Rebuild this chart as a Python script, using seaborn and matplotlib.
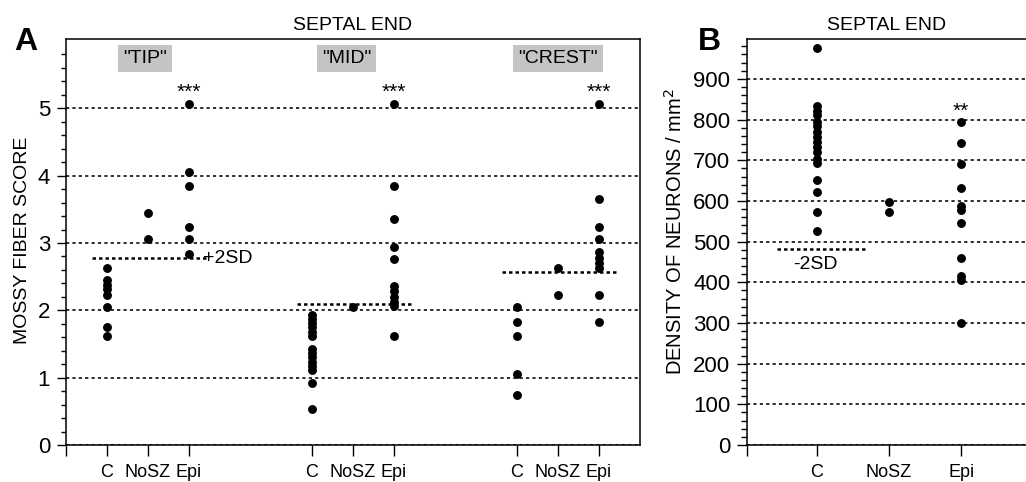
import numpy as np
import pandas as pd
import matplotlib
matplotlib.use("Agg")
import matplotlib.pyplot as plt
import seaborn as sns
from matplotlib.ticker import FixedLocator

# ---------------- data ----------------
regions = ['"TIP"', '"MID"', '"CREST"']
groups = ["C", "NoSZ", "Epi"]

tip_c = [2.63, 2.45, 2.38, 2.32, 2.23, 2.05, 1.75, 1.62]
tip_nosz = [3.45, 3.06]
tip_epi = [5.06, 4.06, 3.84, 3.24, 3.06, 2.84]
mid_c = [1.93, 1.87, 1.81, 1.75, 1.68, 1.62, 1.42, 1.36, 1.30, 1.24, 1.17, 1.11, 0.92, 0.53]
mid_nosz = [2.05]
mid_epi = [5.06, 3.85, 3.35, 2.94, 2.76, 2.36, 2.28, 2.20, 2.13, 2.06, 1.62]
crest_c = [2.05, 1.83, 1.62, 1.05, 0.74]
crest_nosz = [2.63, 2.23]
crest_epi = [5.06, 3.66, 3.24, 3.06, 2.86, 2.77, 2.70, 2.63, 2.23, 1.83]
sd_plus2 = [2.77, 2.09, 2.57]
stars_a = ["***", "***", "***"]

density_c = [975, 833, 822, 812, 795, 783, 770, 758, 745, 733, 720, 703, 693,
             652, 621, 572, 527]
density_nosz = [597, 572]
density_epi = [795, 742, 691, 631, 587, 578, 545, 460, 415, 405, 300]
sd_minus2 = 481
stars_b = "**"

# ---------------- tables ----------------
score_sets = [[tip_c, tip_nosz, tip_epi],
              [mid_c, mid_nosz, mid_epi],
              [crest_c, crest_nosz, crest_epi]]
rows = []
for ri, reg in enumerate(regions):
    for gi, g in enumerate(groups):
        for v in score_sets[ri][gi]:
            rows.append({"region": reg, "group": g, "pos": ri * 5 + gi, "score": v})
dfA = pd.DataFrame(rows)

rowsB = []
for gi, (g, vals) in enumerate(zip(groups, [density_c, density_nosz, density_epi])):
    for v in vals:
        rowsB.append({"group": g, "pos": gi, "density": v})
dfB = pd.DataFrame(rowsB)

# ---------------- style ----------------
sns.set_style("ticks")
plt.rcParams["font.family"] = ["Liberation Sans", "DejaVu Sans"]
plt.rcParams["axes.linewidth"] = 1.1
plt.rcParams["axes.edgecolor"] = "black"
plt.rcParams["xtick.color"] = "black"
plt.rcParams["ytick.color"] = "black"
plt.rcParams["text.color"] = "black"
plt.rcParams["axes.labelcolor"] = "black"

W, H = 1026, 482
fig = plt.figure(figsize=(W / 100, H / 100), dpi=100)
axA = fig.add_axes([66 / W, 37 / H, 574 / W, 406 / H])
axB = fig.add_axes([747 / W, 37 / H, 279 / W, 406 / H])

grid_ls = (0, (2.0, 2.0))
sd_ls = (0, (1.4, 1.2))
msize = 6.4

# ---------------- panel A ----------------
sns.stripplot(data=dfA, x="pos", y="score", native_scale=True, jitter=False,
              orient="x", color="black", size=msize, linewidth=0, ax=axA, zorder=3)
axA.set_xlim(-1, 13)
axA.set_ylim(0, 6.03)
posA = [ri * 5 + gi for ri in range(3) for gi in range(3)]
axA.set_xticks([-1] + posA)
axA.set_xticklabels([""] + groups * 3)
axA.set_yticks([0, 1, 2, 3, 4, 5])
axA.yaxis.set_minor_locator(FixedLocator([v / 5 for v in range(0, 30) if v % 5]))
axA.yaxis.grid(True, which="major", linestyle=grid_ls, color="black", lw=1.15)
axA.set_axisbelow(True)
axA.tick_params(axis="y", which="major", length=6.5, width=1, pad=5, labelsize=16)
axA.tick_params(axis="y", which="minor", length=3.6, width=1)
axA.tick_params(axis="x", which="major", length=8, width=1, pad=6, labelsize=13)
axA.set_xlabel("")
axA.set_ylabel("MOSSY FIBER SCORE", fontsize=14)
axA.yaxis.set_label_coords(-0.061, 0.505)
axA.set_title("SEPTAL END", fontsize=14, pad=6.5)

box_dx = [-0.07, -0.15, 0.0]
for ri, reg in enumerate(regions):
    x0 = ri * 5
    axA.hlines(sd_plus2[ri], x0 - 0.37, x0 + 2.42, colors="black",
               linestyles=sd_ls, lw=1.8, zorder=2)
    axA.text(x0 + 2, 5.16, stars_a[ri], ha="center", va="baseline", fontsize=15)
    axA.text(x0 + 1 + box_dx[ri], 5.74, reg, ha="center", va="center", fontsize=14,
             bbox=dict(boxstyle="square,pad=0.25", fc="#c4c4c4", ec="none"))
axA.text(2.34, sd_plus2[0], "+2SD", ha="left", va="center", fontsize=14)

# ---------------- panel B ----------------
sns.stripplot(data=dfB, x="pos", y="density", native_scale=True, jitter=False,
              orient="x", color="black", size=msize, linewidth=0, ax=axB, zorder=3)
axB.set_xlim(-0.97, 2.9)
axB.set_ylim(0, 998)
axB.set_xticks([-0.97, 0, 1, 2])
axB.set_xticklabels([""] + groups)
axB.set_yticks(list(range(0, 1000, 100)))
axB.yaxis.set_minor_locator(FixedLocator([v for v in range(0, 1000, 20) if v % 100]))
axB.yaxis.grid(True, which="major", linestyle=grid_ls, color="black", lw=1.15)
axB.set_axisbelow(True)
axB.spines["right"].set_visible(False)
axB.tick_params(axis="y", which="major", length=7, width=1, pad=5, labelsize=16)
axB.tick_params(axis="y", which="minor", length=4, width=1)
axB.tick_params(axis="x", which="major", length=8, width=1, pad=6, labelsize=13)
axB.set_xlabel("")
axB.set_ylabel("DENSITY OF NEURONS / mm$^2$", fontsize=14.5)
axB.yaxis.set_label_coords(-0.219, 0.527)
axB.set_title("SEPTAL END", fontsize=14, pad=6.5)
axB.hlines(sd_minus2, -0.56, 0.68, colors="black", linestyles=sd_ls, lw=1.8, zorder=2)
axB.text(-0.33, 443, "-2SD", ha="left", va="center", fontsize=14)
axB.text(2, 806, stars_b, ha="center", va="baseline", fontsize=15)

fig.text(14 / W, (H - 50) / H, "A", fontsize=23, fontweight="bold", va="baseline")
fig.text(698 / W, (H - 50) / H, "B", fontsize=23, fontweight="bold", va="baseline")

fig.savefig("out.png", dpi=100)
